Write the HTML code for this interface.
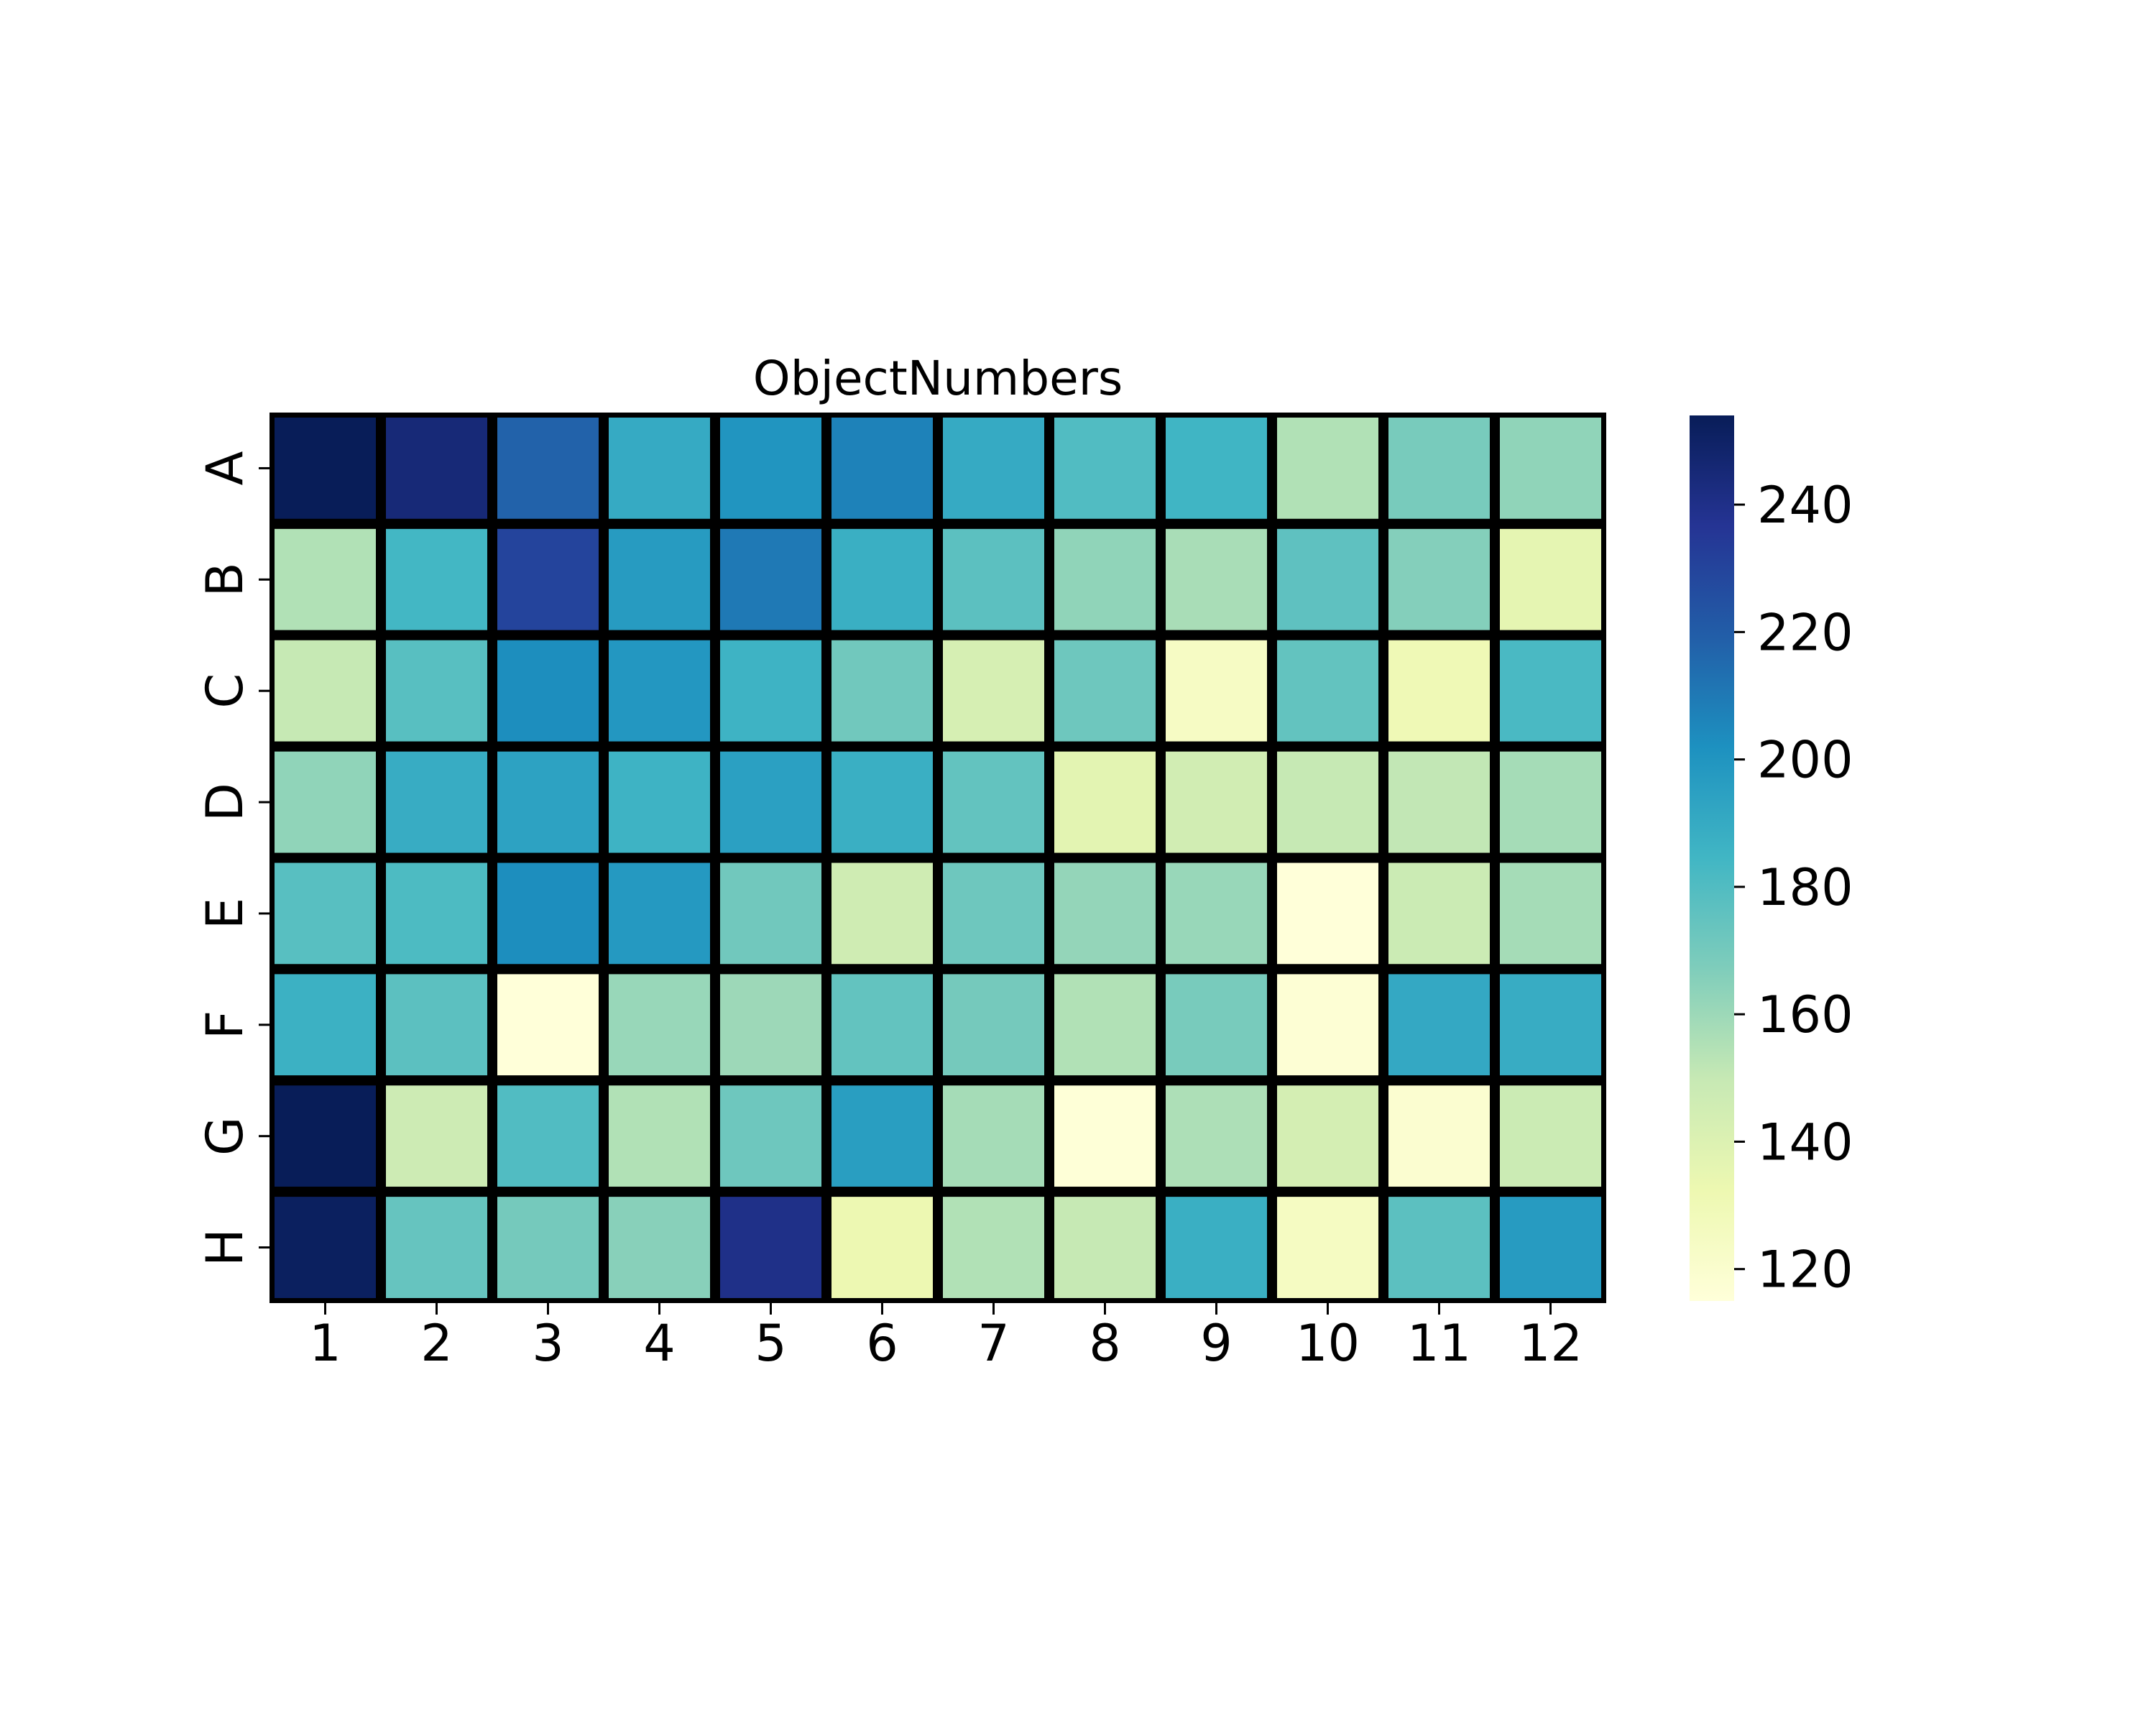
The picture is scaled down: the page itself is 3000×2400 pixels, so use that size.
<!DOCTYPE html>
<html><head><meta charset="utf-8"><style>
html,body{margin:0;padding:0;background:#fff;}
svg{display:block;font-family:"DejaVu Sans","Liberation Sans",sans-serif;}
</style></head><body>
<svg id="chart" width="3000" height="2400" viewBox="0 0 3000 2400" xmlns="http://www.w3.org/2000/svg">
<rect width="3000" height="2400" fill="#fff"/>
<text x="1305" y="549" font-size="66" text-anchor="middle">ObjectNumbers</text>
<defs>
<clipPath id="axclip"><rect x="375" y="574" width="1860" height="1239"/></clipPath>
<linearGradient id="cbgrad" x1="0" y1="1" x2="0" y2="0">
<stop offset="0" stop-color="#ffffd9"/><stop offset="0.125" stop-color="#edf8b1"/><stop offset="0.25" stop-color="#c7e9b4"/><stop offset="0.375" stop-color="#7fcdbb"/><stop offset="0.5" stop-color="#41b6c4"/><stop offset="0.625" stop-color="#1d91c0"/><stop offset="0.75" stop-color="#225ea8"/><stop offset="0.875" stop-color="#253494"/><stop offset="1" stop-color="#081d58"/>
</linearGradient>
</defs>
<g id="cells" clip-path="url(#axclip)"></g>
<g id="axes"></g>
<rect x="2351" y="578" width="62" height="1232" fill="url(#cbgrad)"/>
<g id="cbar"></g>
</svg>
<script>
const rowLabels = ["A","B","C","D","E","F","G","H"];
const colLabels = ["1","2","3","4","5","6","7","8","9","10","11","12"];
const rowA = [254,245,218,190,200,207,190,180,185,155,169,163];
const rowB = [155,184,230,197,210,188,177,163,157,176,166,136];
const rowC = [150,178,203,199,186,171,143,172,124,175,130,182];
const rowD = [163,189,194,186,195,188,175,137,145,150,151,158];
const rowE = [178,181,203,198,171,146,172,162,161,115,148,158];
const rowF = [187,177,115,161,160,175,170,155,169,117,191,189];
const rowG = [254,147,180,155,172,196,158,116,156,144,119,148];
const rowH = [252,174,170,165,240,132,155,150,188,125,177,197];
const cbTicks = [120,140,160,180,200,220,240];
const vmin = 115, vmax = 254;

const values = [rowA,rowB,rowC,rowD,rowE,rowF,rowG,rowH];
const NS = "http://www.w3.org/2000/svg";
const X0 = 375, X1 = 2235, Y0 = 574, Y1 = 1813;
const CB_TOP = 578, CB_BOT = 1810;
const cw = (X1 - X0) / colLabels.length, ch = (Y1 - Y0) / rowLabels.length;
const xPos = i => X0 + i * cw;
const yPos = j => Y0 + j * ch;
const cbY = v => CB_BOT - (v - vmin) / (vmax - vmin) * (CB_BOT - CB_TOP);
const stops = ["#ffffd9","#edf8b1","#c7e9b4","#7fcdbb","#41b6c4","#1d91c0","#225ea8","#253494","#081d58"];
function hex(h){return [1,3,5].map(k=>parseInt(h.substr(k,2),16));}
function cmap(v){
  let t = Math.max(0, Math.min(1, (v - vmin) / (vmax - vmin))) * (stops.length - 1);
  let i = Math.min(Math.floor(t), stops.length - 2), f = t - i;
  const a = hex(stops[i]), b = hex(stops[i+1]);
  return "rgb(" + a.map((c,k)=>Math.round(c + (b[k]-c)*f)).join(",") + ")";
}
function mk(tag, attrs, parent){
  const e = document.createElementNS(NS, tag);
  for (const k in attrs) e.setAttribute(k, attrs[k]);
  parent.appendChild(e);
  return e;
}
const cells = document.getElementById("cells");
values.forEach((row, j) => row.forEach((v, i) => {
  const r = mk("rect", {x: xPos(i), y: yPos(j), width: cw, height: ch, fill: cmap(v), stroke: "#000", "stroke-width": 14}, cells);
  
  
}));
const axes = document.getElementById("axes");
rowLabels.forEach((lab, j) => {
  const cy = yPos(j) + ch / 2;
  const t = mk("line", {x1: 360, x2: 375, y1: cy, y2: cy, stroke: "#000", "stroke-width": 3}, axes);
  
  
  const tx = mk("text", {x: 0, y: 0, "font-size": 70, "text-anchor": "middle", transform: "translate(337," + cy + ") rotate(-90)"}, axes);
  tx.textContent = lab;
  
  
});
colLabels.forEach((lab, i) => {
  const cx = xPos(i) + cw / 2;
  const t = mk("line", {x1: cx, x2: cx, y1: 1813, y2: 1829, stroke: "#000", "stroke-width": 3}, axes);
  
  
  const tx = mk("text", {x: cx, y: 1893, "font-size": 70, "text-anchor": "middle"}, axes);
  tx.textContent = lab;
  
  
});
const cbar = document.getElementById("cbar");
cbTicks.forEach(v => {
  const y = cbY(v);
  const t = mk("line", {x1: 2413, x2: 2428, y1: y, y2: y, stroke: "#000", "stroke-width": 3}, cbar);
  
  
  const tx = mk("text", {x: 2445, y: y + 25, "font-size": 70}, cbar);
  tx.textContent = v;
  
  
});
</script>
</body></html>
